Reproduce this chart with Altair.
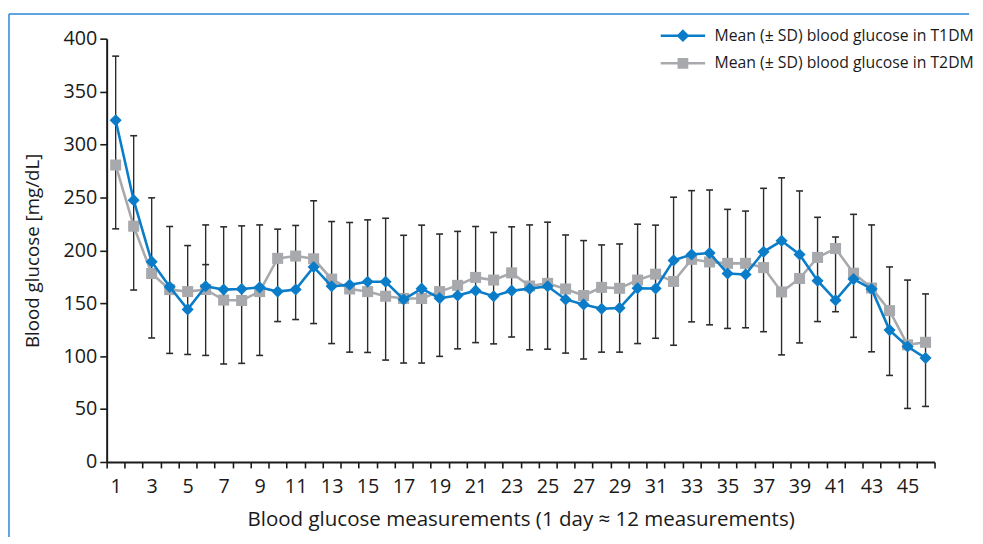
import altair as alt
import pandas as pd

# ---- data ----
measurement = list(range(1, 47))
t1dm_mean = [322.9, 247.4, 189.3, 165.5, 144.2, 166.0, 162.9, 163.5, 165.0, 161.0,
             163.0, 184.3, 166.0, 167.5, 170.3, 170.3, 153.6, 163.8, 154.8, 157.3,
             161.9, 156.6, 161.9, 163.8, 166.0, 153.6, 148.9, 144.8, 145.5, 164.1,
             164.0, 190.5, 196.0, 197.4, 178.1, 177.2, 198.6, 209.0, 196.1, 171.3,
             152.9, 172.8, 163.5, 124.6, 109.1, 98.2]
t2dm_mean = [280.6, 222.8, 178.1, 162.9, 161.0, 163.0, 153.0, 152.6, 161.0, 192.4,
             194.6, 192.0, 172.8, 163.5, 161.0, 156.6, 154.5, 154.5, 161.0, 166.9,
             174.4, 171.9, 178.7, 166.3, 168.8, 163.5, 157.3, 165.0, 164.1, 171.9,
             177.5, 170.6, 191.5, 189.0, 187.7, 187.7, 183.7, 160.7, 173.4, 193.3,
             201.7, 178.4, 164.4, 143.0, 110.7, 113.1]
sd_low = [220.3, 162.5, 117.2, 102.6, 101.6, 100.7, 92.6, 93.2, 100.7, 132.7,
          134.6, 130.8, 111.9, 103.8, 103.5, 96.3, 93.5, 93.5, 99.8, 106.9,
          112.8, 111.6, 118.1, 106.0, 106.6, 102.9, 97.3, 103.8, 103.8, 111.9,
          116.9, 110.3, 132.4, 129.6, 126.2, 126.8, 123.1, 101.2, 112.5, 132.7,
          142.0, 117.8, 104.1, 81.8, 50.6, 52.5]
sd_high = [383.5, 308.3, 249.6, 222.5, 204.5, 224.0, 222.2, 223.1, 224.0, 220.0,
           223.5, 246.8, 227.2, 226.3, 228.8, 230.3, 214.2, 223.8, 215.4, 217.9,
           222.5, 216.9, 222.2, 224.0, 226.6, 214.5, 209.2, 205.1, 206.0, 224.7,
           223.8, 250.2, 256.4, 257.0, 238.7, 237.1, 258.6, 268.5, 256.1, 231.2,
           212.6, 234.0, 224.0, 184.3, 171.9, 158.8]
extra_cap_x = [6]
extra_cap_y = [186.5]

series_labels = ["Mean (\u00b1 SD) blood glucose in T1DM",
                 "Mean (\u00b1 SD) blood glucose in T2DM"]
series_colors = ["#0a7cc8", "#a8a9ad"]
legend_paths = ["M-3,0H3M0,-0.62L0.62,0L0,0.62L-0.62,0Z",
                "M-3,0H3M-0.55,-0.55H0.55V0.55H-0.55Z"]

FONT = "Open Sans"
WIDTH = 839

df = pd.DataFrame({"m": measurement, "t1": t1dm_mean, "t2": t2dm_mean,
                   "lo": sd_low, "hi": sd_high})
extra = pd.DataFrame({"m": extra_cap_x, "y": extra_cap_y})
legend_df = pd.DataFrame({"series": series_labels, "m": [1, 1], "t1": [0, 0]})

x_scale = alt.Scale(type="band", domain=measurement, paddingInner=0, paddingOuter=0)
y_scale = alt.Scale(domain=[0, 400], nice=False)

x_axis = alt.Axis(
    labelExpr="datum.value % 2 === 1 ? datum.label : ''",
    tickBand="extent", labelAngle=0, labelOverlap=False, grid=False,
    title="Blood glucose measurements (1 day \u2248 12 measurements)",
    tickSize=6, labelPadding=9, titlePadding=13, titleFontSize=20.8,
)
y_axis = alt.Axis(
    values=list(range(0, 401, 50)), grid=False, labelOverlap=False,
    title="Blood glucose [mg/dL]", tickSize=7, labelPadding=3, titlePadding=21,
)

X = alt.X("m:O", scale=x_scale, axis=x_axis)

base = alt.Chart(df)

bars = base.mark_rule(color="#2b2b2b", strokeWidth=1.4).encode(
    x=X,
    y=alt.Y("lo:Q", scale=y_scale, axis=y_axis),
    y2="hi:Q",
)
caps_lo = base.mark_tick(color="#2b2b2b", orient="horizontal", size=7, thickness=1.6,
                         opacity=1).encode(x=X, y="lo:Q")
caps_hi = base.mark_tick(color="#2b2b2b", orient="horizontal", size=7, thickness=1.6,
                         opacity=1).encode(x=X, y="hi:Q")
caps_extra = alt.Chart(extra).mark_tick(color="#2b2b2b", orient="horizontal", size=7,
                                        thickness=1.6, opacity=1).encode(x=X, y=alt.Y("y:Q"))

t2_line = base.mark_line(color=series_colors[1], strokeWidth=2.6).encode(x=X, y="t2:Q")
t2_pts = base.mark_point(filled=True, shape="square", size=125, opacity=1,
                         color=series_colors[1]).encode(x=X, y="t2:Q")
t1_line = base.mark_line(color=series_colors[0], strokeWidth=2.6).encode(x=X, y="t1:Q")
t1_pts = base.mark_point(filled=True, shape="diamond", size=150, opacity=1,
                         color=series_colors[0]).encode(x=X, y="t1:Q")

leg_scale_fill = alt.Scale(domain=series_labels, range=series_colors)
leg_scale_shape = alt.Scale(domain=series_labels, range=legend_paths)
legend_layer = alt.Chart(legend_df).transform_filter("false").mark_point(
    filled=True, opacity=1).encode(
    x=X, y="t1:Q",
    fill=alt.Fill("series:N", scale=leg_scale_fill, legend=alt.Legend(
        title=None, orient="none", legendX=575, legendY=-12,
        symbolSize=225, symbolStrokeWidth=2.6, symbolOpacity=1, labelOffset=23,
        rowPadding=8, labelFont=FONT, labelFontSize=16, labelColor="#1a1a1a",
        labelLimit=400, padding=0)),
    stroke=alt.Stroke("series:N", scale=leg_scale_fill),
    shape=alt.Shape("series:N", scale=leg_scale_shape),
)

frame_df = pd.DataFrame({"k": [0]})
frame_left = alt.Chart(frame_df).mark_rule(color="#2a86d6", strokeWidth=1.5).encode(
    x=alt.value(-99), y=alt.value(-25), y2=alt.value(505))
frame_top = alt.Chart(frame_df).mark_rule(color="#2a86d6", strokeWidth=1.5).encode(
    x=alt.value(-99), x2=alt.value(874), y=alt.value(-25))

chart = alt.layer(
    frame_left, frame_top, bars, caps_lo, caps_hi, caps_extra,
    t2_line, t2_pts, t1_line, t1_pts, legend_layer,
).properties(
    width=WIDTH, height=429,
    padding={"left": 0, "top": 1.5, "right": 0, "bottom": 0},
).configure_view(stroke=None).configure_axis(
    domainColor="#1a1a1a", domainWidth=2, tickColor="#1a1a1a", tickWidth=1.6,
    labelFont=FONT, labelFontSize=20, labelColor="#1a1a1a",
    titleFont=FONT, titleFontSize=19, titleFontWeight="normal", titleColor="#1a1a1a",
)

chart.save("out.html", embed_options={"renderer": "svg", "actions": False})
